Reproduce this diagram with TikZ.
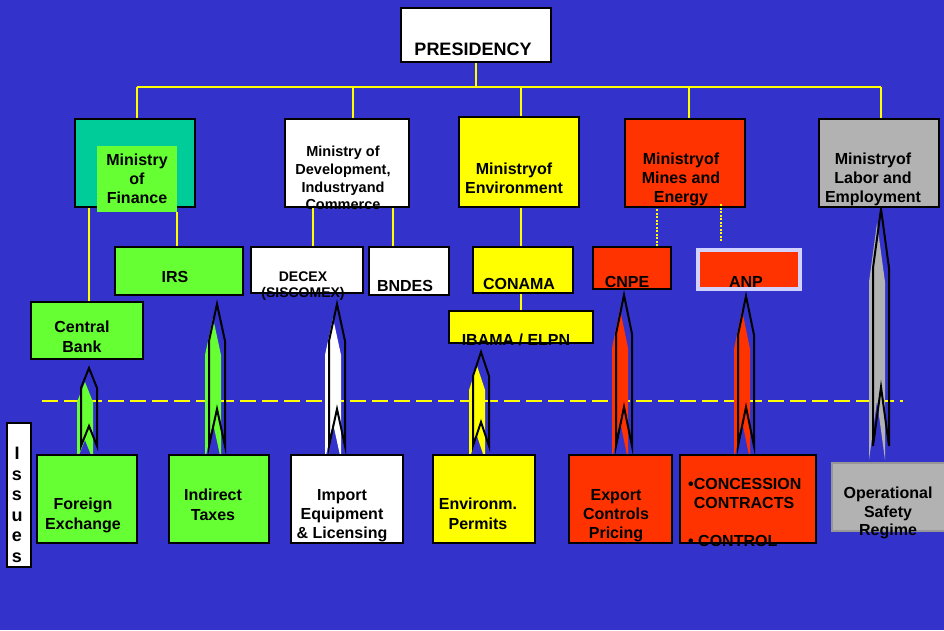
\documentclass[tikz,border=0pt]{standalone}
\usepackage{fontspec}
\setmainfont{Liberation Sans}
\usepackage{tikz}
\usetikzlibrary{calc, backgrounds}

\definecolor{bgblue}{RGB}{51,51,204}
\definecolor{fingreen}{RGB}{0,204,153}
\definecolor{lgreen}{RGB}{102,255,51}
\definecolor{myellow}{RGB}{255,255,0}
\definecolor{mred}{RGB}{255,51,0}
\definecolor{mgray}{RGB}{178,178,178}
\definecolor{lavender}{RGB}{210,210,255}
\definecolor{opsgray}{RGB}{150,150,150}

% issue arrow: from, to, x, tip gap, foot gap, head length, colour
\newcommand\issuearrow[7]{%
  \coordinate (tip) at ($(#3,0 |- #2.south)+(0,#4)$);
  \coordinate (foot) at ($(#3,0 |- #1.north)+(0,-#5)$);
  \fill[#7] ($(tip)+(-4,14)$) -- ++(8,#6) -- ($(foot)+(4,14)$) -- ($(foot)+(-4,14-#6)$)
    -- ($(foot)+(-12,14)$) -- ($(tip)+(-12,14+#6)$) -- cycle;
  \draw[line width=2] (tip) -- ++(8,#6) -- ($(foot)+(8,0)$) -- ($(foot)+(0,-#6)$)
    -- ($(foot)+(-8,0)$) -- ($(tip)+(-8,#6)$) -- cycle;
}

\begin{document}
\begin{tikzpicture}[x=1pt, y=-1pt,
    box/.style={draw, line width=2, inner sep=0},
    lbl/.style={inner sep=0, anchor=north, align=center, font=\bfseries\fontsize{16}{19}\selectfont},
    link/.style={draw=myellow, line width=1.5}
]
    \useasboundingbox (0,0) rectangle (944,630);

    % top level
    \node[box, fill=white, minimum width=150, minimum height=54] (pres) at (476,35) {};
    \node[lbl, font=\bfseries\fontsize{18}{21}\selectfont] (pres-t) at (473,43) {PRESIDENCY};

    % ministries
    \node[box, fill=fingreen, minimum width=120, minimum height=88] (fin) at (135,163) {};
    \node[fill=lgreen, inner sep=0, minimum width=80, minimum height=66] (finin) at (137,179) {};
    \node[lbl] (fin-t) at (137,154) {Ministry\\of\\Finance};
    \node[box, fill=white, minimum width=124, minimum height=88] (dev) at (347,163) {};
    \node[lbl, font=\bfseries\fontsize{14.5}{17.7}\selectfont] (dev-t) at (343,146) {Ministry of\\Development,\\Industryand\\Commerce};
    \node[box, fill=myellow, minimum width=120, minimum height=90] (env) at (519,162) {};
    \node[lbl, font=\bfseries\fontsize{16}{18.5}\selectfont] (env-t) at (514,163) {Ministryof\\Environment};
    \node[box, fill=mred, minimum width=120, minimum height=88] (mines) at (685,163) {};
    \node[lbl] (mines-t) at (681,153) {Ministryof\\Mines and\\Energy};
    \node[box, fill=mgray, minimum width=120, minimum height=88] (lab) at (879,163) {};
    \node[lbl] (lab-t) at (873,153) {Ministryof\\Labor and\\Employment};

    % agencies
    \node[box, fill=lgreen, minimum width=128, minimum height=48] (irs) at (179,271) {};
    \node[lbl] (irs-t) at (175,271) {IRS};
    \node[box, fill=lgreen, minimum width=112, minimum height=57] (cb) at (87,330.5) {};
    \node[lbl, font=\bfseries\fontsize{16}{20}\selectfont] (cb-t) at (82,321) {Central\\Bank};
    \node[box, fill=white, minimum width=112, minimum height=46] (decex) at (307,270) {};
    \node[lbl, font=\bfseries\fontsize{14}{15.5}\selectfont] (decex-t) at (303,272) {DECEX\\(SISCOMEX)};
    \node[box, fill=white, minimum width=80, minimum height=48] (bndes) at (409,271) {};
    \node[lbl] (bndes-t) at (405,280) {BNDES};
    \node[box, fill=myellow, minimum width=100, minimum height=46] (conama) at (523,270) {};
    \node[lbl] (conama-t) at (519,278) {CONAMA};
    \node[box, fill=myellow, minimum width=144, minimum height=32] (ibama) at (521,327) {};
    \node[lbl] (ibama-t) at (516,334) {IBAMA / ELPN};
    \node[box, fill=mred, minimum width=78, minimum height=42] (cnpe) at (632,268) {};
    \node[lbl] (cnpe-t) at (627,276) {CNPE};
    \node[box, draw=lavender, line width=4, fill=mred, minimum width=102, minimum height=39] (anp) at (749,269.5) {};
    \node[lbl] (anp-t) at (746,276) {ANP};

    % issues
    \node[box, fill=white, minimum width=24, minimum height=144] (issues) at (19,495) {};
    \node[lbl, font=\bfseries\fontsize{18}{20.6}\selectfont] (issues-t) at (17,447) {I\\s\\s\\u\\e\\s};
    \node[box, fill=lgreen, minimum width=100, minimum height=88] (fx) at (87,499) {};
    \node[lbl, font=\bfseries\fontsize{16}{20}\selectfont] (fx-t) at (83,498) {Foreign\\Exchange};
    \node[box, fill=lgreen, minimum width=100, minimum height=88] (tax) at (219,499) {};
    \node[lbl, font=\bfseries\fontsize{16}{20}\selectfont] (tax-t) at (213,489) {Indirect\\Taxes};
    \node[box, fill=white, minimum width=112, minimum height=88] (imp) at (347,499) {};
    \node[lbl] (imp-t) at (342,489) {Import\\Equipment\\\& Licensing};
    \node[box, fill=myellow, minimum width=102, minimum height=88] (envp) at (484,499) {};
    \node[lbl, font=\bfseries\fontsize{16}{20}\selectfont] (envp-t) at (478,498) {Environm.\\Permits};
    \node[box, fill=mred, minimum width=103, minimum height=88] (exp) at (620.5,499) {};
    \node[lbl] (exp-t) at (616,489) {Export\\Controls\\Pricing};
    \node[box, fill=mred, minimum width=136, minimum height=88] (con) at (748,499) {};
    \node[lbl, anchor=north west, align=left] (con-t) at (688,478) {\textbullet CONCESSION\\\hphantom{\textbullet}CONTRACTS\\[19pt]\textbullet{} CONTROL};
    \node[box, draw=opsgray, fill=mgray, minimum width=120, minimum height=68] (ops) at (892,497) {};
    \node[lbl, font=\bfseries\fontsize{16}{18.5}\selectfont] (ops-t) at (888,487) {Operational\\Safety\\Regime};

    % organisation lines
    \coordinate (bus) at (0,87);
    \draw[link] (pres.south) -- (pres.south |- bus);
    \draw[link] ([xshift=2]fin.north |- bus) -- ([xshift=2]lab.north |- bus);
    \draw[link] ([xshift=2]fin.north) -- ([xshift=2]fin.north |- bus);
    \draw[link] ([xshift=6]dev.north) -- ([xshift=6]dev.north |- bus);
    \draw[link] ([xshift=2]env.north) -- ([xshift=2]env.north |- bus);
    \draw[link] ([xshift=4]mines.north) -- ([xshift=4]mines.north |- bus);
    \draw[link] ([xshift=2]lab.north) -- ([xshift=2]lab.north |- bus);
    \draw[link] ([xshift=2]cb.north) -- ([xshift=2]cb.north |- fin.south);
    \draw[link] (irs.north -| finin.south east) -- (finin.south east);
    \draw[link] ([xshift=6]decex.north) -- ([xshift=6]decex.north |- dev.south);
    \draw[link] ([xshift=-16]bndes.north) -- ([xshift=-16]bndes.north |- dev.south);
    \draw[link] ([xshift=-2]conama.north) -- ([xshift=-2]conama.north |- env.south);
    \draw[link] (ibama.north) -- (ibama.north |- conama.south);
    \draw[link, dash pattern=on 2pt off 1.5pt] ([xshift=25]cnpe.north) -- ([xshift=25]cnpe.north |- mines.south);
    \draw[link, dash pattern=on 2pt off 1.5pt] ([xshift=-28]anp.north) ++(0,-7) -- ([xshift=-28,yshift=4]anp.north |- mines.south);

    \begin{scope}[on background layer]
        \fill[bgblue] (0,0) rectangle (944,630);
        \coordinate (sepL) at (42,401);
        \coordinate (sepR) at (903,401);
        \draw[myellow, line width=2, dash pattern=on 16pt off 6pt] (sepL) -- (sepR);
        \issuearrow{fx}{cb}{89}{8}{8}{20}{lgreen}
        \issuearrow{tax}{irs}{217}{8}{8}{37}{lgreen}
        \issuearrow{imp}{decex}{337}{10}{8}{37}{white}
        \issuearrow{envp}{ibama}{481}{8}{8}{24}{myellow}
        \issuearrow{exp}{cnpe}{624}{5}{8}{39}{mred}
        \issuearrow{con}{anp}{746}{5}{8}{39}{mred}
        \issuearrow{ops}{lab}{881}{1}{16}{59}{mgray}
    \end{scope}
\end{tikzpicture}
\end{document}
